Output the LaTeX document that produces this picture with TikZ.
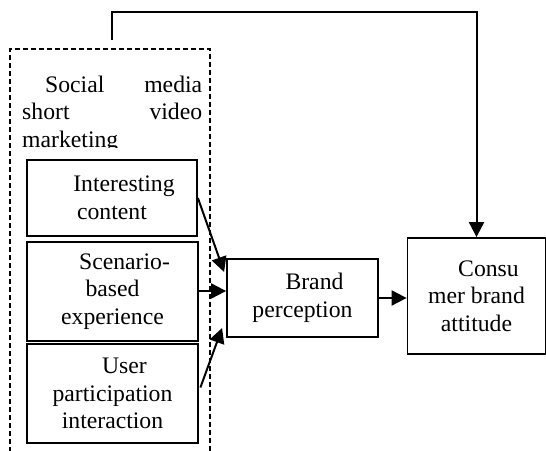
\documentclass[tikz,border=0pt]{standalone}
\usepackage{fontspec}
\setmainfont{Liberation Serif}
\usetikzlibrary{arrows.meta,calc}
\begin{document}
\begin{tikzpicture}[x=1pt,y=-1pt,
  txt/.style={font=\fontsize{23.7}{27.5}\selectfont},
  box/.style={draw,line width=1.8pt,inner sep=0pt,align=center,txt},
  arr/.style={line width=2pt,-{Triangle[length=15pt,width=15pt]}},
  dashbox/.style={line width=1.8pt,dash pattern=on 5pt off 3pt}]
\useasboundingbox (0,0) rectangle (546,450);
% dashed group
\draw[dashbox] (10,452) -- (10,49) -- (210,49) -- (210,452);
\begin{scope}
\clip (0,0) rectangle (546,147);
\node[txt,anchor=north west,inner sep=0pt,align=left] (soc) at (22,75.8)
  {\hbox to 180pt{\hspace*{23pt}Social\hfill media}\\
   \hbox to 180pt{short\hfill video}\\
   marketing};
\end{scope}
% boxes
\node[box,minimum width=170pt,minimum height=76pt] (int) at (112,198) {\hspace*{24pt}Interesting\\content};
\node[box,minimum width=171pt,minimum height=99pt] (sc) at (112.5,291.5) {\hspace*{24pt}Scenario-\\based\\experience};
\node[box,minimum width=171pt,minimum height=99pt] (user) at (112.5,393.5) {\hspace*{24pt}User\\participation\\interaction};
\node[box,minimum width=151pt,minimum height=78pt] (brand) at (302.5,298) {\hspace*{24pt}Brand\\perception};
\node[box,minimum width=138pt,minimum height=116pt] (cons) at (476.5,296) {\hspace*{24pt}Consu\\mer brand\\attitude};
% connectors
\draw[arr] (int.east) -- ([xshift=-2pt,yshift=26pt]brand.west);
\draw[arr] ([yshift=0.5pt]sc.east) -- ([yshift=7pt]brand.west);
\draw[arr] ([xshift=1.5pt,yshift=6pt]user.east) -- ([xshift=-4pt,yshift=-30pt]brand.west);
\draw[arr] (brand.east) -- (brand.east -| cons.west);
\coordinate (src) at (112,40);
\coordinate (tl) at (112,12);
\draw[arr] (src) -- (tl) -| (cons);
\end{tikzpicture}
\end{document}
